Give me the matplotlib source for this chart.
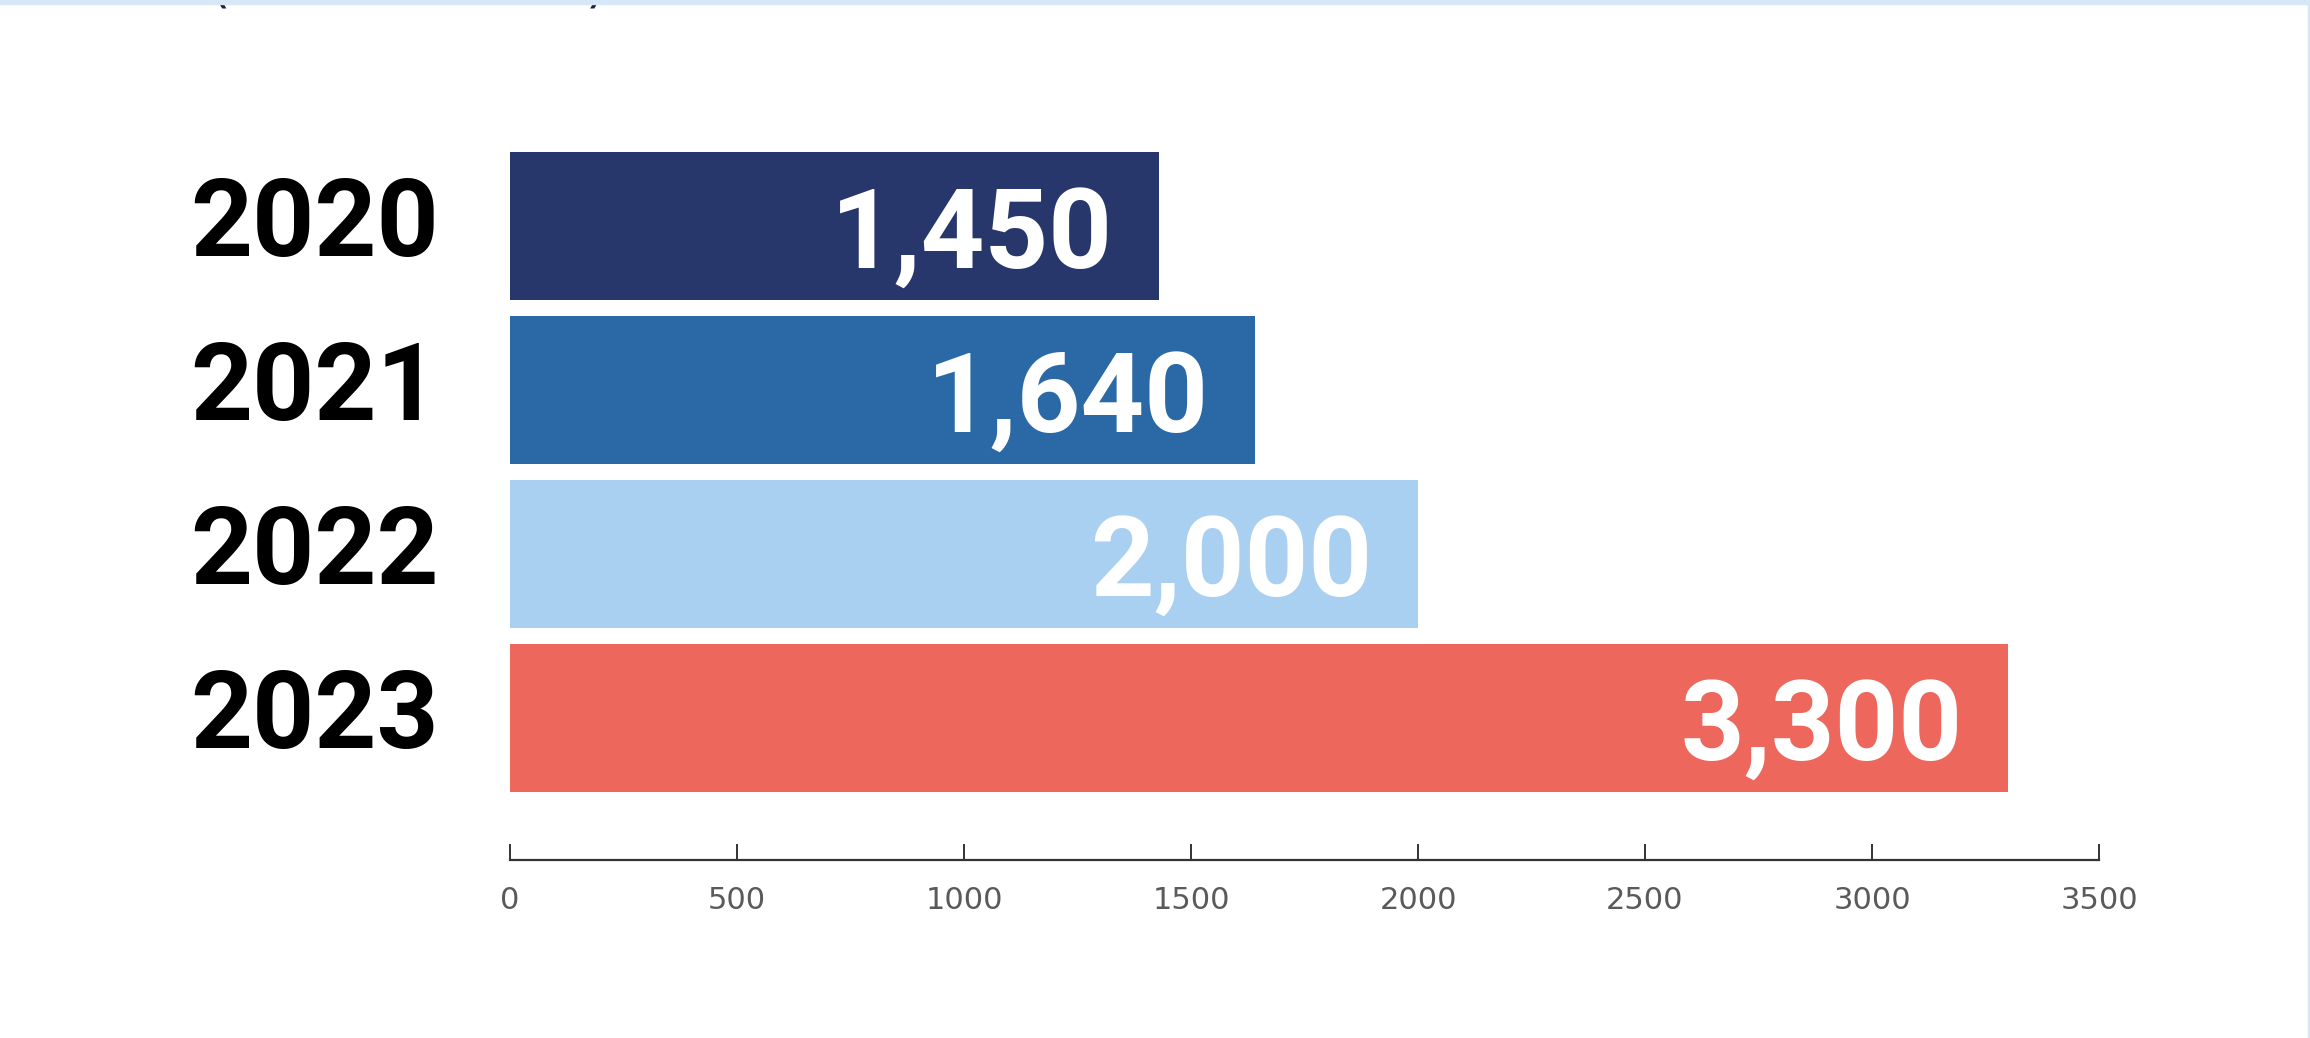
import matplotlib.pyplot as plt
from matplotlib.patches import Rectangle

# data (bar lengths as drawn in the picture, labels as printed)
years = ['2020', '2021', '2022', '2023']
values = [1430, 1640, 2000, 3300]
value_labels = ['1,450', '1,640', '2,000', '3,300']
bar_colors = ['#27366B', '#2A69A5', '#AAD0F1', '#ED675D']
xticks = [0, 500, 1000, 1500, 2000, 2500, 3000, 3500]

W, H = 2310, 1038
fig = plt.figure(figsize=(W / 100, H / 100), dpi=100)
ax = fig.add_axes([510 / W, 1 - 860 / H, (2099 - 510) / W, (860 - 152) / H])

ypos = list(range(len(years)))
ax.barh(ypos, values, height=0.9, color=bar_colors)
ax.set_xlim(0, 3500)
ax.set_ylim(3.866, -0.45)

for sp in ['top', 'right', 'left']:
    ax.spines[sp].set_visible(False)
ax.spines['bottom'].set_linewidth(1.6)
ax.spines['bottom'].set_color('#333333')
ax.set_yticks([])
ax.set_xticks(xticks)
ax.set_xticklabels([str(t) for t in xticks], fontfamily='DejaVu Sans', fontsize=22, color='#5a5a5a')
ax.tick_params(axis='x', direction='in', length=11.5, width=1.4, color='#333333', pad=19)

for y, yr, v, lab in zip(ypos, years, values, value_labels):
    ax.annotate(yr, xy=(0, y), xytext=(-51, -22), textcoords='offset points',
                ha='right', va='baseline', fontfamily='Roboto', fontweight='bold',
                fontsize=78, color='black')
    ax.annotate(lab, xy=(v, y), xytext=(-33, -31), textcoords='offset points',
                ha='right', va='baseline', fontfamily='Roboto', fontweight='bold',
                fontsize=80, color='white')

# light blue frame bits and the cut-off subtitle parentheses
fig.patches.append(Rectangle((0, 1 - 4 / H), 1, 4 / H, transform=fig.transFigure,
                             color='#D6E8F7', zorder=5))
fig.patches.append(Rectangle((1 - 2 / W, 0), 2 / W, 1, transform=fig.transFigure,
                             color='#D6E8F7', zorder=5))
fig.text(210 / W, 1 - 1 / H, '(', fontsize=38, color='#1b2240', va='baseline')
fig.text(586 / W, 1 - 1 / H, ')', fontsize=38, color='#1b2240', va='baseline')

fig.savefig('out.png', dpi=100)
